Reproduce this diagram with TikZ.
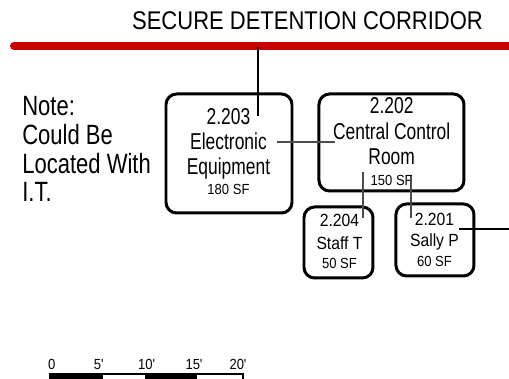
\documentclass[tikz,border=0pt]{standalone}
\usepackage{fontspec}
\setmainfont{Liberation Sans}
\newfontfamily\titlefont[FakeStretch=0.86]{Liberation Sans}
\newfontfamily\notefont[FakeStretch=0.79]{Liberation Sans}
\newfontfamily\roomfont[FakeStretch=0.76]{Liberation Sans}
\newfontfamily\smallfont[FakeStretch=0.89]{Liberation Sans}
\definecolor{corridorred}{RGB}{200,0,0}
\newdimen\px \px=0.567pt
\tikzset{
  room/.style={draw,line width=1.7pt,rounded corners=6pt},
  lead/.style={line width=0.6pt},
  big/.style={anchor=base,font=\roomfont\fontsize{13}{15}\selectfont},
  mid/.style={anchor=base,font=\smallfont\fontsize{10}{12}\selectfont},
  area/.style={anchor=base,font=\smallfont\fontsize{8.3}{10}\selectfont},
  notes/.style={anchor=base west,inner sep=0pt,font=\notefont\fontsize{15.8}{18}\selectfont}
}
\begin{document}
\begin{tikzpicture}[x=0.567pt,y=-0.567pt]
    \useasboundingbox (0,0) rectangle (509,379);
    \draw[corridorred,line width=4.5pt,line cap=round] (14,46) -- (515,46);
    \node[anchor=base,font=\titlefont\fontsize{14.5}{16}\selectfont] (title) at (307.5,30) {SECURE DETENTION CORRIDOR};

    \node[room,minimum width=126\px,minimum height=119\px] (r203) at (229,153.5) {};
    \node[room,minimum width=145\px,minimum height=97\px] (r202) at (391.5,142.5) {};
    \node[room,minimum width=69\px,minimum height=71\px] (r204) at (338.5,242.5) {};
    \node[room,minimum width=78\px,minimum height=72\px] (r201) at (435,240) {};

    \node[big] (n203) at (228.5,125) {2.203};
    \node[big] (e203) at (228.5,150) {Electronic};
    \node[big] (q203) at (228.5,175) {Equipment};
    \node[area] (s203) at (228.5,195) {180 SF};

    \node[big] (n202) at (391.7,113.3) {2.202};
    \node[big] (c202) at (391.7,140) {Central Control};
    \node[big] (o202) at (391.7,165) {Room};
    \node[area] (s202) at (391.7,186) {150 SF};

    \node[mid] (n204) at (339.5,226.7) {2.204};
    \node[mid] (t204) at (339.5,249.3) {Staff T};
    \node[area] (s204) at (339.5,268.3) {50 SF};

    \node[mid] (n201) at (434.5,226) {2.201};
    \node[mid] (p201) at (434.5,246.7) {Sally P};
    \node[area] (s201) at (434.5,266.7) {60 SF};

    \coordinate (drop) at (258,47);
    \coordinate (drop end) at (258,116);
    \coordinate (link a) at (277,142);
    \coordinate (link b) at (335,142);
    \coordinate (staff a) at (363,172);
    \coordinate (staff b) at (363,218);
    \coordinate (sally a) at (411,176);
    \coordinate (sally b) at (411,218);
    \coordinate (out a) at (459,229);
    \coordinate (out b) at (509,229);
    \draw[lead] (drop) -- (drop end);
    \draw[lead,black!70] (link a) -- (link b);
    \draw[lead,black!70] (staff a) -- (staff b);
    \draw[lead,black!70] (sally a) -- (sally b);
    \draw[lead] (out a) -- (out b);

    \node[notes] (note1) at (22,116) {Note:};
    \node[notes] (note2) at (22,145) {Could Be};
    \node[notes] (note3) at (22,173.3) {Located With};
    \node[notes] (note4) at (22,201.7) {I.T.};

    \draw[line width=0.6pt,fill=black] (50,374) rectangle (102,382);
    \draw[line width=0.6pt] (102,374) rectangle (146,382);
    \draw[line width=0.6pt,fill=black] (146,374) rectangle (196,382);
    \draw[line width=0.6pt] (196,374) rectangle (243,382);
    \node[area] (k0) at (51.7,370) {0};
    \node[area] (k5) at (98.8,370) {5'};
    \node[area] (k10) at (146.7,370) {10'};
    \node[area] (k15) at (194,370) {15'};
    \node[area] (k20) at (238,370) {20'};
\end{tikzpicture}
\end{document}
